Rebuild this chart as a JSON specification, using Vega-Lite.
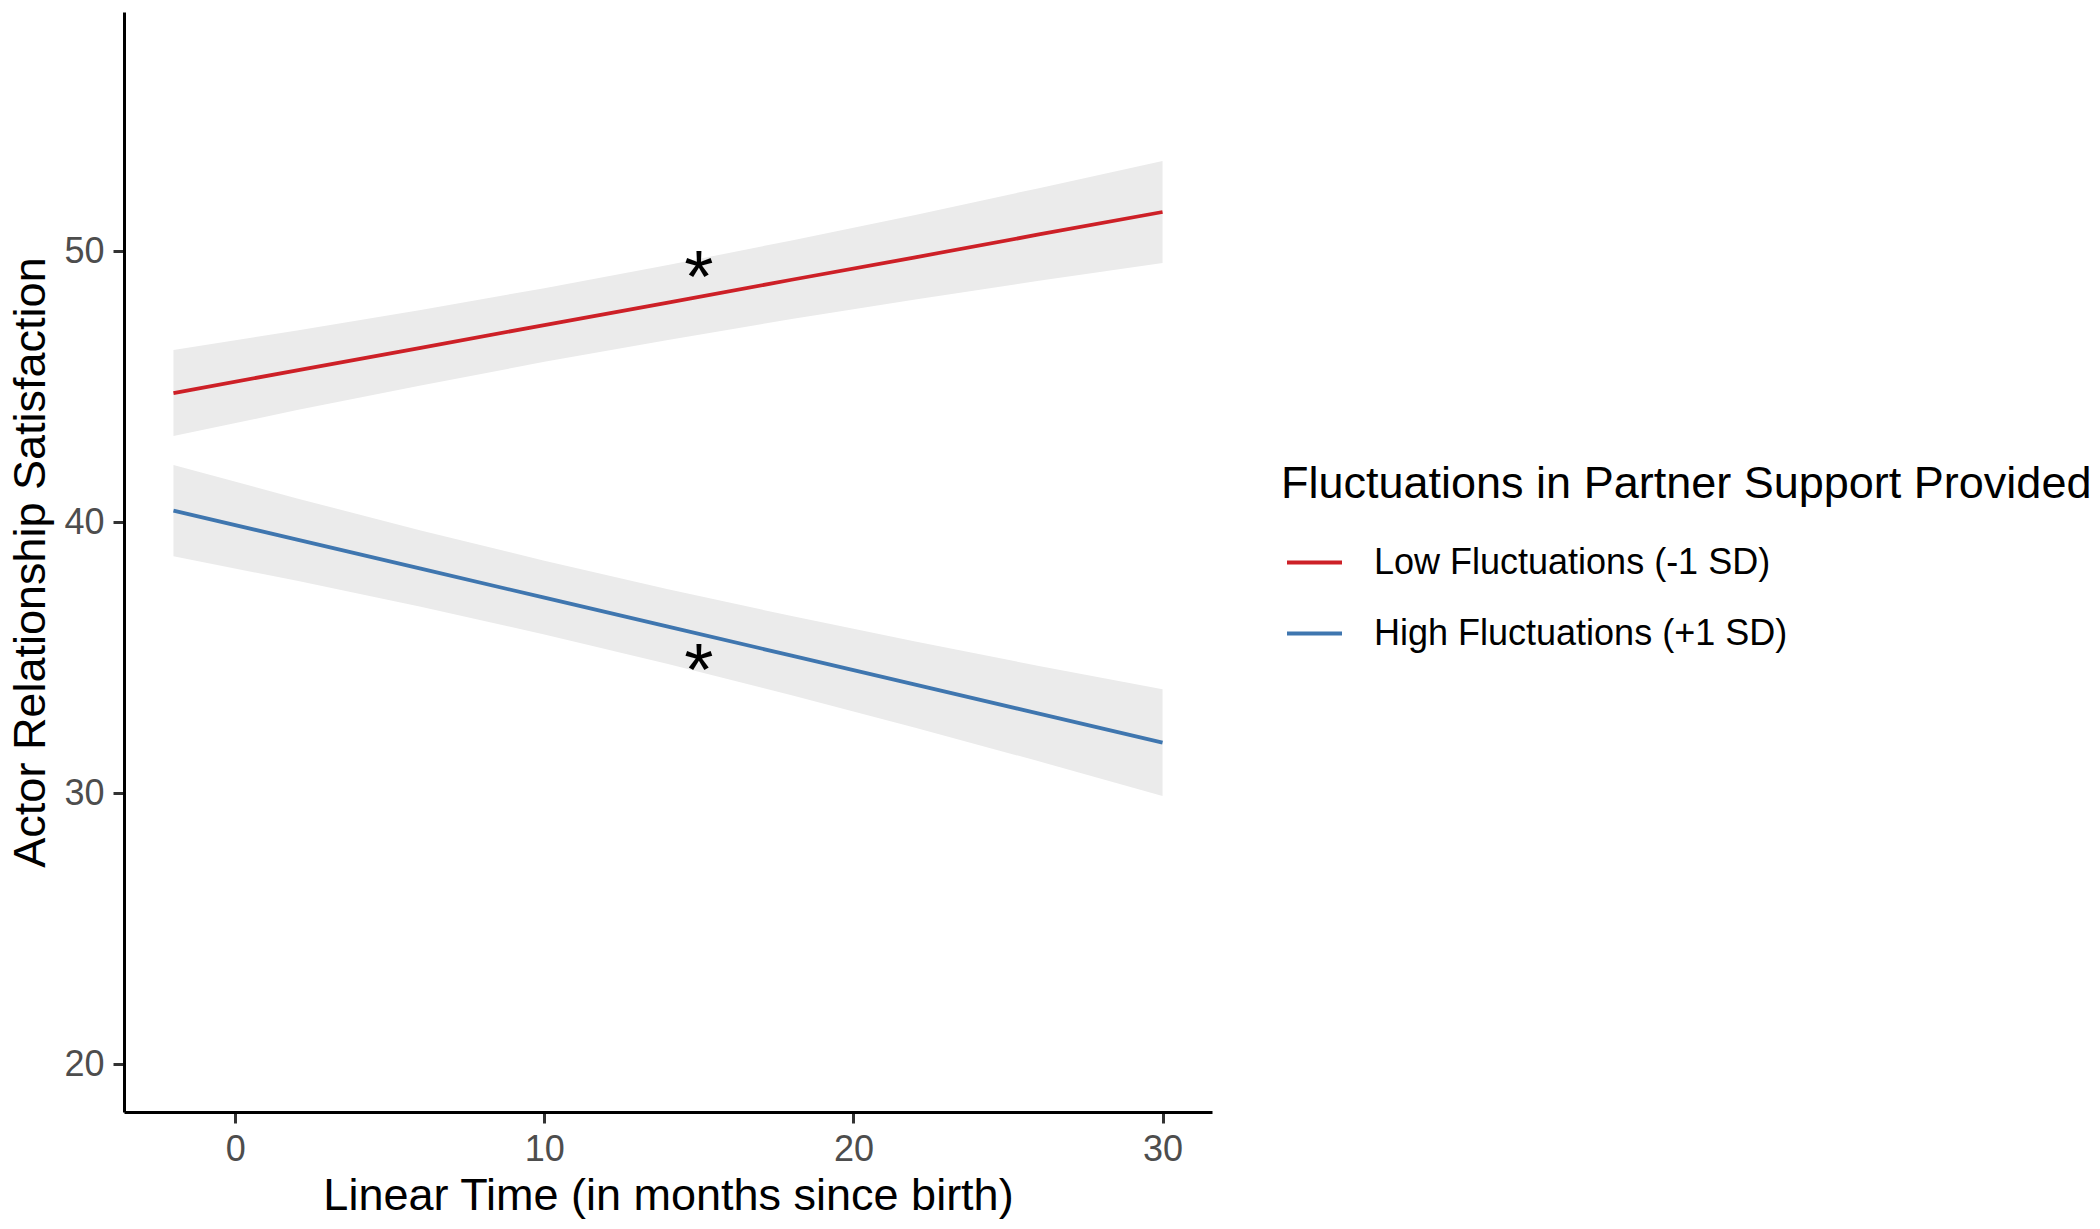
{
  "$schema": "https://vega.github.io/schema/vega-lite/v6.json",
  "width": 1088,
  "height": 1100,
  "autosize": {"type": "none"},
  "padding": {"left": 124, "top": 12, "right": 888, "bottom": 117},
  "background": "white",
  "config": {
    "view": {"stroke": null},
    "font": "Liberation Sans",
    "axis": {
      "grid": false,
      "domainColor": "#000000",
      "domainWidth": 3,
      "tickColor": "#333333",
      "tickWidth": 3,
      "tickSize": 11,
      "labelPadding": 9,
      "labelColor": "#4D4D4D",
      "labelFontSize": 36,
      "labelFont": "Liberation Sans",
      "titleFont": "Liberation Sans",
      "titleFontSize": 45,
      "titleFontWeight": "normal",
      "titleColor": "#000000"
    },
    "legend": {
      "labelFont": "Liberation Sans",
      "titleFont": "Liberation Sans"
    }
  },
  "datasets": {
    "fits": [
      {"group": "Low Fluctuations (-1 SD)", "x": -2, "y": 44.76, "lo": 43.17, "hi": 46.35},
      {"group": "Low Fluctuations (-1 SD)", "x": 2, "y": 45.60, "lo": 44.13, "hi": 47.07},
      {"group": "Low Fluctuations (-1 SD)", "x": 6, "y": 46.43, "lo": 45.04, "hi": 47.82},
      {"group": "Low Fluctuations (-1 SD)", "x": 10, "y": 47.27, "lo": 45.91, "hi": 48.63},
      {"group": "Low Fluctuations (-1 SD)", "x": 14, "y": 48.10, "lo": 46.72, "hi": 49.48},
      {"group": "Low Fluctuations (-1 SD)", "x": 18, "y": 48.94, "lo": 47.49, "hi": 50.39},
      {"group": "Low Fluctuations (-1 SD)", "x": 22, "y": 49.77, "lo": 48.21, "hi": 51.33},
      {"group": "Low Fluctuations (-1 SD)", "x": 26, "y": 50.61, "lo": 48.90, "hi": 52.32},
      {"group": "Low Fluctuations (-1 SD)", "x": 30, "y": 51.44, "lo": 49.56, "hi": 53.32},
      {"group": "High Fluctuations (+1 SD)", "x": -2, "y": 40.42, "lo": 38.74, "hi": 42.10},
      {"group": "High Fluctuations (+1 SD)", "x": 2, "y": 39.35, "lo": 37.83, "hi": 40.87},
      {"group": "High Fluctuations (+1 SD)", "x": 6, "y": 38.28, "lo": 36.87, "hi": 39.69},
      {"group": "High Fluctuations (+1 SD)", "x": 10, "y": 37.21, "lo": 35.85, "hi": 38.57},
      {"group": "High Fluctuations (+1 SD)", "x": 14, "y": 36.14, "lo": 34.76, "hi": 37.52},
      {"group": "High Fluctuations (+1 SD)", "x": 18, "y": 35.07, "lo": 33.61, "hi": 36.53},
      {"group": "High Fluctuations (+1 SD)", "x": 22, "y": 34.00, "lo": 32.41, "hi": 35.59},
      {"group": "High Fluctuations (+1 SD)", "x": 26, "y": 32.93, "lo": 31.17, "hi": 34.69},
      {"group": "High Fluctuations (+1 SD)", "x": 30, "y": 31.86, "lo": 29.89, "hi": 33.83}
    ],
    "stars": [
      {"x": 15, "y": 49.56, "label": "*"},
      {"x": 15, "y": 35.06, "label": "*"}
    ]
  },
  "layer": [
    {
      "data": {"name": "fits"},
      "mark": {"type": "area", "fill": "#EBEBEB", "opacity": 1},
      "encoding": {
        "x": {"field": "x", "type": "quantitative", "scale": {"domain": [-3.6, 31.6], "nice": false, "zero": false},
              "axis": {"values": [0, 10, 20, 30], "title": "Linear Time (in months since birth)", "titlePadding": 6}},
        "y": {"field": "lo", "type": "quantitative", "scale": {"domain": [18.23, 58.82], "nice": false, "zero": false},
              "axis": {"values": [20, 30, 40, 50], "title": "Actor Relationship Satisfaction", "titlePadding": 10}},
        "y2": {"field": "hi"},
        "detail": {"field": "group"}
      }
    },
    {
      "data": {"name": "fits"},
      "mark": {"type": "line", "strokeWidth": 3.8},
      "encoding": {
        "x": {"field": "x", "type": "quantitative"},
        "y": {"field": "y", "type": "quantitative"},
        "color": {
          "field": "group",
          "type": "nominal",
          "scale": {"domain": ["Low Fluctuations (-1 SD)", "High Fluctuations (+1 SD)"], "range": ["#CD2027", "#3F76AF"]},
          "legend": {
            "title": "Fluctuations in Partner Support Provided",
            "orient": "none",
            "legendX": 1157,
            "legendY": 450,
            "titleFontSize": 45,
            "titleFontWeight": "normal",
            "titleColor": "#000000",
            "titleLimit": 2000,
            "titlePadding": 26,
            "labelFontSize": 36,
            "labelColor": "#000000",
            "labelLimit": 2000,
            "symbolType": "stroke",
            "symbolSize": 3025,
            "symbolStrokeWidth": 3.8,
            "symbolOffset": 4,
            "labelOffset": 30,
            "rowPadding": 23,
            "padding": 0
          }
        }
      }
    },
    {
      "data": {"name": "stars"},
      "mark": {"type": "text", "fontSize": 75, "color": "#000000", "baseline": "middle", "align": "center", "dy": 16},
      "encoding": {
        "x": {"field": "x", "type": "quantitative"},
        "y": {"field": "y", "type": "quantitative"},
        "text": {"field": "label"}
      }
    }
  ]
}
